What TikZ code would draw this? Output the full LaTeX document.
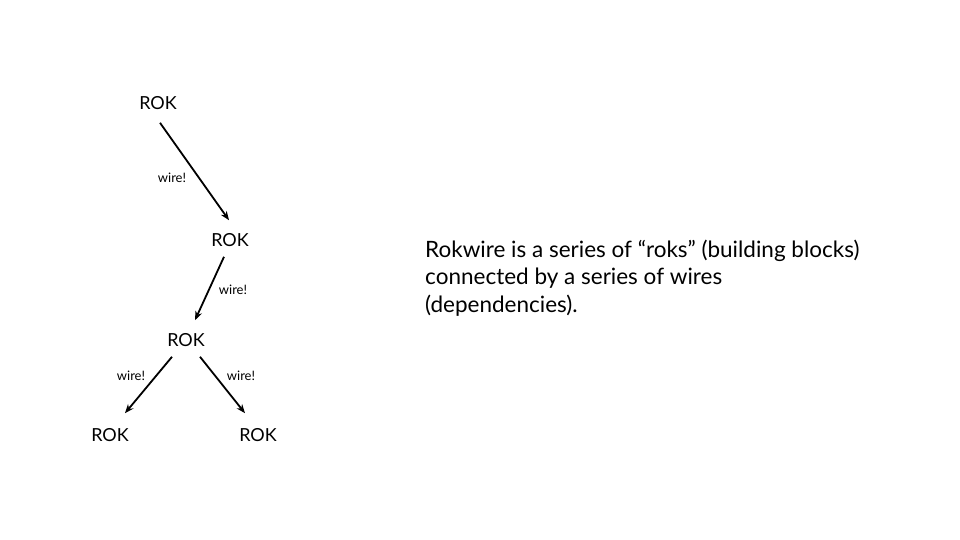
\documentclass[tikz,border=0pt]{standalone}
\usepackage{fontspec}
\setmainfont{Lato}
\usetikzlibrary{arrows.meta,calc}
\begin{document}
\begin{tikzpicture}[x=1pt,y=-1pt,
  rok/.style={inner sep=0pt,font=\fontsize{18}{20}\selectfont},
  lbl/.style={inner sep=0pt,font=\fontsize{13}{15}\selectfont},
  wirearrow/.style={line width=1.8pt,-{Stealth[length=9pt,width=7pt]}}]
\useasboundingbox[fill=white] (0,0) rectangle (960,540);
\node[rok] (r1) at (158,103) {ROK};
\node[rok] (r2) at (230,240) {ROK};
\node[rok] (r3) at (186,340) {ROK};
\node[rok] (r4) at (110,435) {ROK};
\node[rok] (r5) at (258,435) {ROK};
\draw[wirearrow] ($(r1.south)+(2,13)$) -- ($(r2.north)+(-1,-13)$);
\draw[wirearrow] ($(r2.south)+(-6,10)$) -- ($(r3.north)+(9,-13)$);
\draw[wirearrow] ($(r3.south)+(-14,10)$) -- ($(r4.north)+(15,-15)$);
\draw[wirearrow] ($(r3.south)+(14,10)$) -- ($(r5.north)+(-13,-15)$);
\node[lbl] (w1) at (172,178) {wire!};
\node[lbl] (w2) at (233,290) {wire!};
\node[lbl] (w3) at (131,376) {wire!};
\node[lbl] (w4) at (241,376) {wire!};
\node[anchor=base west,inner sep=0pt,align=left,font=\fontsize{22.5}{27.5}\selectfont] (txt) at (425,312)
  {Rokwire is a series of “roks” (building blocks)\\connected by a series of wires\\(dependencies).};
\end{tikzpicture}
\end{document}
